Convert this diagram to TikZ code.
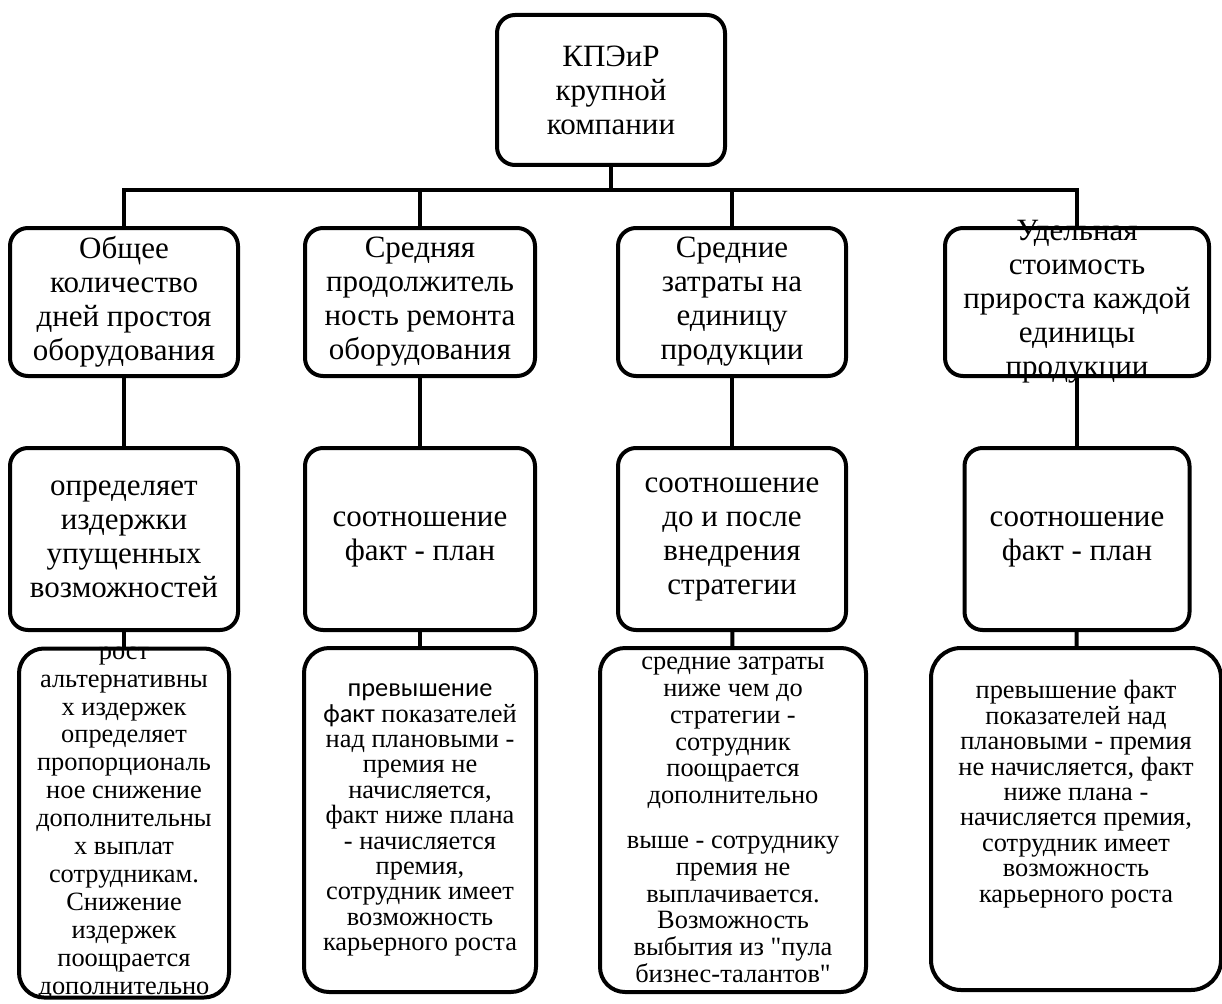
\documentclass[tikz,border=0pt]{standalone}
\usepackage{fontspec}
\setmainfont{Liberation Serif}
\newfontfamily\calfont{Carlito}
\tikzset{
    box/.style={rectangle, rounded corners=18pt, draw=black, line width=4pt, align=center, inner sep=4pt},
    link/.style={line width=4pt}
}
\newcommand{\bigtext}{\fontsize{31}{34}\selectfont}
\newcommand{\smalltext}[1]{\fontsize{26.4}{#1}\selectfont\lineskiplimit=-20pt\relax}

\begin{document}
\begin{tikzpicture}[x=1pt, y=-1pt,
    head/.style={box, minimum width=228pt, minimum height=150pt, font=\bigtext},
    kpi/.style={box, minimum height=148pt, font=\bigtext},
    measure/.style={box, minimum height=182pt, font=\bigtext},
    bonus/.style={box, rounded corners=25pt, minimum height=344pt, font={\smalltext{25.4}}}
]
    \useasboundingbox (0,0) rectangle (1222,1003);

    % Top: company KPI
    \node[head] (root) at (611,90) {КПЭиР\\крупной\\компании};
    \coordinate (bus) at (611,190);

    % Level 1: indicators
    \node[kpi, minimum width=228pt] (days) at (124,302) {Общее\\количество\\дней простоя\\оборудования};
    \node[kpi, minimum width=230pt] (repair) at (420,302) {Средняя\\продолжитель\\ность ремонта\\оборудования};
    \node[kpi, minimum width=228pt] (cost) at (732,302) {Средние\\затраты на\\единицу\\продукции};
    \node[kpi, minimum width=264pt, inner ysep=-10pt] (unit) at (1077,302) {Удельная\\стоимость\\прироста каждой\\единицы\\продукции};

    % Level 2: how it is measured
    \node[measure, minimum width=228pt] (lost) at (124,539) {определяет\\издержки\\упущенных\\возможностей};
    \node[measure, minimum width=230pt] (ratioA) at (420,539) {соотношение\\факт - план};
    \node[measure, minimum width=228pt] (ratioB) at (732,539) {соотношение\\до и после\\внедрения\\стратегии};
    \node[measure, minimum width=225pt] (ratioC) at (1077,539) {соотношение\\факт - план};

    % Level 3: bonus rules
    \node[bonus, minimum width=210pt, minimum height=349pt, inner ysep=-10pt, font={\smalltext{27.9}}] (ruleA) at (124,823) {рост\\альтернативны\\х издержек\\определяет\\пропорциональ\\ное снижение\\дополнительны\\х выплат\\сотрудникам.\\Снижение\\издержек\\поощрается\\дополнительно};
    \node[bonus, minimum width=232pt] (ruleB) at (420,820) {{\calfont превышение}\\{\calfont факт} показателей\\над плановыми -\\премия не\\начисляется,\\факт ниже плана\\- начисляется\\премия,\\сотрудник имеет\\возможность\\карьерного роста};
    \node[bonus, minimum width=266pt, font={\smalltext{26.8}}] (ruleC) at (733,820) {средние затраты\\ниже чем до\\стратегии -\\сотрудник\\поощрается\\дополнительно\\[18pt]выше - сотруднику\\премия не\\выплачивается.\\Возможность\\выбытия из \textquotedbl пула\\бизнес-талантов\textquotedbl};
    \node[bonus, minimum width=290pt, minimum height=342pt, rounded corners=30pt] (ruleD) at (1076,819) {превышение факт\\показателей над\\плановыми - премия\\не начисляется, факт\\ниже плана -\\начисляется премия,\\сотрудник имеет\\возможность\\карьерного роста\\[30pt]};

    % Tree links
    \draw[link] (root.south) -- (root.south |- bus);
    \draw[link] (days.north) -- (days.north |- bus) -- (unit.north |- bus) -- (unit.north);
    \draw[link] (repair.north) -- (repair.north |- bus);
    \draw[link] (cost.north) -- (cost.north |- bus);

    \draw[link] (days) -- (lost);
    \draw[link] (repair) -- (ratioA);
    \draw[link] (cost) -- (ratioB);
    \draw[link] (unit) -- (ratioC);

    \draw[link] (lost) -- (ruleA);
    \draw[link] (ratioA) -- (ruleB);
    \draw[link] (ratioB) -- (ruleC);
    \draw[link] (ratioC) -- (ruleD);

\end{tikzpicture}
\end{document}
